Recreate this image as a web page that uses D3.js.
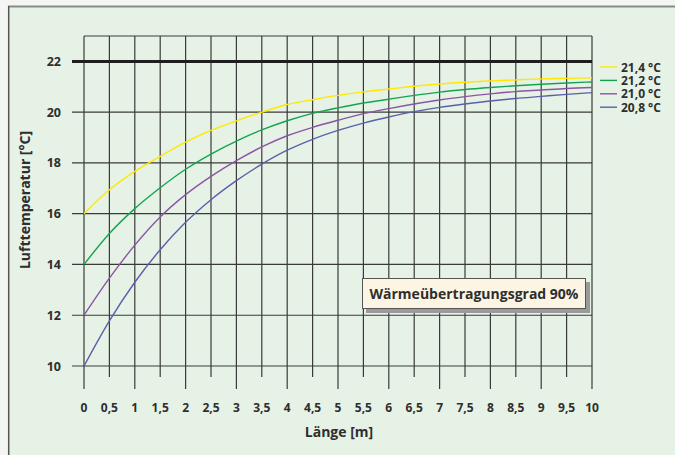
<!DOCTYPE html>
<html>
<head>
<meta charset="utf-8">
<script src="https://cdn.jsdelivr.net/npm/d3@7"></script>
<style>
  body { margin: 0; background: #f3f6f3; }
  svg { display: block; font-family: "Open Sans", sans-serif; }
</style>
</head>
<body>
<svg width="675" height="455"></svg>
<script>
// Länge in m
const laenge = [0, 0.5, 1, 1.5, 2, 2.5, 3, 3.5, 4, 4.5, 5, 5.5, 6, 6.5, 7, 7.5, 8, 8.5, 9, 9.5, 10];
const xTicks = ["0", "0,5", "1", "1,5", "2", "2,5", "3", "3,5", "4", "4,5", "5", "5,5", "6", "6,5", "7", "7,5", "8", "8,5", "9", "9,5", "10"];
const yTicks = [10, 12, 14, 16, 18, 20, 22];

// Lufttemperatur je Kurve
const t214 = [16.0, 16.94, 17.67, 18.26, 18.82, 19.28, 19.66, 20.0, 20.3, 20.49, 20.66, 20.8, 20.91, 21.02, 21.11, 21.18, 21.23, 21.27, 21.31, 21.33, 21.35];
const t212 = [14.0, 15.22, 16.2, 17.02, 17.75, 18.35, 18.86, 19.3, 19.66, 19.95, 20.17, 20.36, 20.51, 20.66, 20.79, 20.89, 20.97, 21.04, 21.1, 21.15, 21.19];
const t210 = [12.0, 13.46, 14.76, 15.87, 16.75, 17.47, 18.09, 18.63, 19.07, 19.4, 19.68, 19.94, 20.14, 20.32, 20.48, 20.61, 20.72, 20.81, 20.87, 20.93, 20.97];
const t208 = [10.0, 11.78, 13.3, 14.58, 15.66, 16.55, 17.3, 17.95, 18.5, 18.93, 19.28, 19.57, 19.81, 20.02, 20.19, 20.32, 20.44, 20.54, 20.62, 20.7, 20.77];

const legende = ["21,4 °C", "21,2 °C", "21,0 °C", "20,8 °C"];
const farben = ["#ffe800", "#12a550", "#8b55a3", "#5b5fac"];
const reihen = [t214, t212, t210, t208];
const grenze = 22;

const svg = d3.select("svg");

// Hintergrund-Panel
svg.append("rect")
  .attr("x", 8.5).attr("y", 6.5)
  .attr("width", 700).attr("height", 500)
  .attr("fill", "#e6f2e6");
svg.append("line")
  .attr("x1", 8).attr("x2", 675).attr("y1", 6.5).attr("y2", 6.5)
  .attr("stroke", "#8a8a8a").attr("stroke-width", 2);
svg.append("line")
  .attr("x1", 8.7).attr("x2", 8.7).attr("y1", 6).attr("y2", 455)
  .attr("stroke", "#555").attr("stroke-width", 1.5);

const x = d3.scaleLinear().domain([0, 10]).range([84, 592]);
const y = d3.scaleLinear().domain([10, 23]).range([366, 36]);

// vertikale Gitterlinien
svg.append("g")
  .selectAll("line")
  .data(laenge)
  .join("line")
  .attr("x1", d => x(d)).attr("x2", d => x(d))
  .attr("y1", y(23))
  .attr("y2", (d, i) => i % 2 === 0 ? 389 : 377)
  .attr("stroke", "#3a3a3a")
  .attr("stroke-width", 1.2);

// horizontale Gitterlinien
svg.append("g")
  .selectAll("line")
  .data(yTicks)
  .join("line")
  .attr("x1", 72).attr("x2", x(10))
  .attr("y1", d => y(d)).attr("y2", d => y(d))
  .attr("stroke", "#3a3a3a")
  .attr("stroke-width", 1.2);

svg.append("line")
  .attr("x1", x(0)).attr("x2", x(10))
  .attr("y1", y(23)).attr("y2", y(23))
  .attr("stroke", "#3a3a3a").attr("stroke-width", 1.2);

// 22 °C Linie
svg.append("line")
  .attr("x1", 72).attr("x2", x(10))
  .attr("y1", y(grenze)).attr("y2", y(grenze))
  .attr("stroke", "#1e1e1e").attr("stroke-width", 3);

// Achsenbeschriftungen
svg.append("g")
  .selectAll("text")
  .data(yTicks)
  .join("text")
  .attr("x", 61).attr("y", d => y(d) + 4.5)
  .attr("text-anchor", "end")
  .attr("font-size", 12.5).attr("font-weight", "bold")
  .attr("fill", "#2e2e2e")
  .text(d => d);

svg.append("g")
  .selectAll("text")
  .data(laenge)
  .join("text")
  .attr("x", d => x(d)).attr("y", 411.5)
  .attr("text-anchor", "middle")
  .attr("font-size", 12).attr("font-weight", "bold")
  .attr("fill", "#2e2e2e")
  .text((d, i) => xTicks[i]);

svg.append("text")
  .attr("x", 339).attr("y", 437)
  .attr("text-anchor", "middle")
  .attr("font-size", 14).attr("font-weight", "bold")
  .attr("fill", "#2e2e2e")
  .text("Länge [m]");

svg.append("text")
  .attr("transform", "translate(30,200) rotate(-90)")
  .attr("text-anchor", "middle")
  .attr("font-size", 14).attr("font-weight", "bold")
  .attr("fill", "#2e2e2e")
  .text("Lufttemperatur [°C]");

// Kurven
const linie = d3.line()
  .x((d, i) => x(laenge[i]))
  .y(d => y(d))
  .curve(d3.curveMonotoneX);

svg.append("g")
  .selectAll("path")
  .data(reihen)
  .join("path")
  .attr("d", linie)
  .attr("fill", "none")
  .attr("stroke", (d, i) => farben[i])
  .attr("stroke-width", 1.4);

// Legende
const leg = svg.append("g")
  .selectAll("g")
  .data(legende)
  .join("g")
  .attr("transform", (d, i) => `translate(600,${67 + i * 13.4})`);
leg.append("line")
  .attr("x1", 0).attr("x2", 17)
  .attr("stroke", (d, i) => farben[i])
  .attr("stroke-width", 1.4);
leg.append("text")
  .attr("x", 21).attr("y", 4.5)
  .attr("font-size", 12).attr("font-weight", "bold")
  .attr("fill", "#2e2e2e")
  .text(d => d);

// Hinweisbox
svg.append("rect")
  .attr("x", 366).attr("y", 282)
  .attr("width", 224).attr("height", 31)
  .attr("fill", "#9a9a9a");
svg.append("rect")
  .attr("x", 362.5).attr("y", 278.5)
  .attr("width", 223).attr("height", 30)
  .attr("fill", "#fdf5e4")
  .attr("stroke", "#555").attr("stroke-width", 1);
svg.append("text")
  .attr("x", 474).attr("y", 298.5)
  .attr("text-anchor", "middle")
  .attr("font-size", 14).attr("font-weight", "bold")
  .attr("fill", "#2e2e2e")
  .text("Wärmeübertragungsgrad 90%");
</script>
</body>
</html>
